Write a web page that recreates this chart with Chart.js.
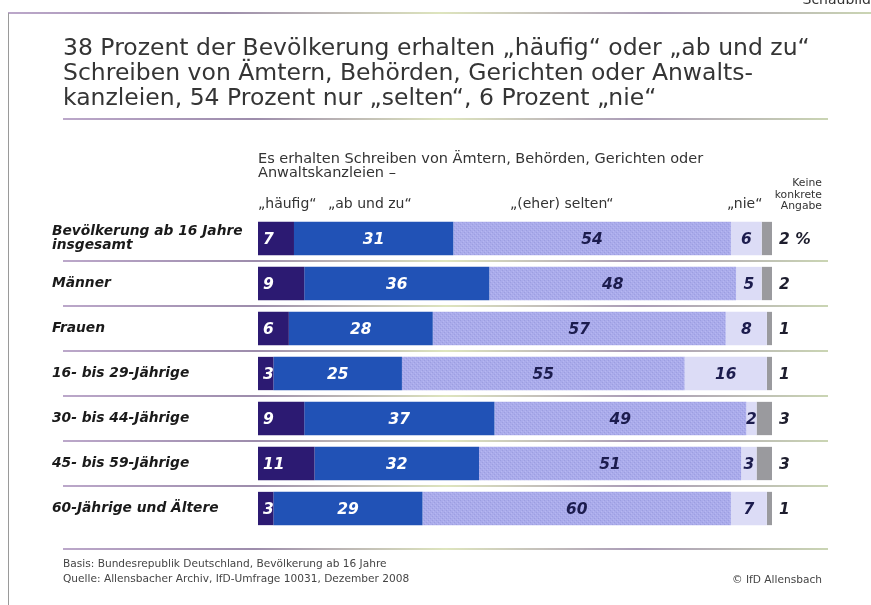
<!DOCTYPE html>
<html>
<head>
<meta charset="utf-8">
<script src="https://cdn.jsdelivr.net/npm/chart.js@4"></script>
<style>
body { margin: 0; background: #fff; }
#wrap { position: relative; width: 871px; height: 605px; overflow: hidden; font-family: "DejaVu Sans", sans-serif; color: #2e2e2e; }
canvas { position: absolute; left: 0; top: 0; }
.t { position: absolute; white-space: nowrap; }
#title { left: 63px; top: 35px; font-size: 23.5px; line-height: 25px; color: #353535; }
#sub { left: 258px; top: 151px; font-size: 14.5px; line-height: 14px; color: #333; }
.head { top: 195px; font-size: 14px; color: #333; }
#keine { right: 49px; top: 177px; font-size: 10.8px; line-height: 11.5px; text-align: right; color: #333; }
#foot { left: 63px; top: 556px; font-size: 10.6px; line-height: 15px; color: #444; }
#copy { right: 49px; top: 573px; font-size: 10.6px; color: #444; }
#schaubild { right: 0px; top: -9px; font-size: 14px; color: #333; }
</style>
</head>
<body>
<div id="wrap">
<canvas id="barChart" width="871" height="605"></canvas>
<div class="t" id="schaubild">Schaubild</div>
<div class="t" id="title">38 Prozent der Bevölkerung erhalten „häufig“ oder „ab und zu“<br>Schreiben von Ämtern, Behörden, Gerichten oder Anwalts-<br>kanzleien, 54 Prozent nur „selten“, 6 Prozent „nie“</div>
<div class="t" id="sub">Es erhalten Schreiben von Ämtern, Behörden, Gerichten oder<br>Anwaltskanzleien –</div>
<div class="t head" style="left:258px">„häufig“</div>
<div class="t head" style="left:328px">„ab und zu“</div>
<div class="t head" style="left:510px">„(eher) selten“</div>
<div class="t head" style="left:727px">„nie“</div>
<div class="t" id="keine">Keine<br>konkrete<br>Angabe</div>
<div class="t" id="foot">Basis: Bundesrepublik Deutschland, Bevölkerung ab 16 Jahre<br>Quelle: Allensbacher Archiv, IfD-Umfrage 10031, Dezember 2008</div>
<div class="t" id="copy">© IfD Allensbach</div>
</div>
<script>
const labels = [
    ['Bevölkerung ab 16 Jahre', 'insgesamt'],
    'Männer',
    'Frauen',
    '16- bis 29-Jährige',
    '30- bis 44-Jährige',
    '45- bis 59-Jährige',
    '60-Jährige und Ältere',
]
const haeufig = [7, 9, 6, 3, 9, 11, 3]
const abUndZu = [31, 36, 28, 25, 37, 32, 29]
const selten = [54, 48, 57, 55, 49, 51, 60]
const nie = [6, 5, 8, 16, 2, 3, 7]
const keineAngabe = [2, 2, 1, 1, 3, 3, 1]

// fine crosshatch for the "selten" segment
function hatch() {
    const c = document.createElement('canvas')
    c.width = 4
    c.height = 4
    const g = c.getContext('2d')
    g.fillStyle = '#aaabeb'
    g.fillRect(0, 0, 4, 4)
    g.fillStyle = '#9c9ee0'
    g.fillRect(0, 0, 1, 1)
    g.fillRect(2, 2, 1, 1)
    g.fillStyle = '#b6b7f0'
    g.fillRect(1, 3, 1, 1)
    g.fillRect(3, 1, 1, 1)
    return g.createPattern(c, 'repeat')
}

function fancyLine(ctx, x0, x1, y, w) {
    const gr = ctx.createLinearGradient(x0, 0, x1, 0)
    gr.addColorStop(0, '#a58ab8')
    gr.addColorStop(0.25, '#7c6690')
    gr.addColorStop(0.5, '#d3dca8')
    gr.addColorStop(0.75, '#8e7aa0')
    gr.addColorStop(1, '#b9c79a')
    ctx.strokeStyle = gr
    ctx.lineWidth = w
    ctx.beginPath()
    ctx.moveTo(x0, y)
    ctx.lineTo(x1, y)
    ctx.stroke()
}

const decor = {
    id: 'decor',
    beforeDraw(chart) {
        const ctx = chart.ctx
        const y = chart.scales.y
        ctx.save()
        // frame
        fancyLine(ctx, 8, 871, 13, 1.5)
        ctx.strokeStyle = '#9a9a9a'
        ctx.lineWidth = 1
        ctx.beginPath()
        ctx.moveTo(8.5, 13)
        ctx.lineTo(8.5, 605)
        ctx.stroke()
        fancyLine(ctx, 63, 828, 119, 1.5)
        fancyLine(ctx, 63, 828, 549, 1.5)
        for (let i = 0; i < labels.length - 1; i++) {
            const py = (y.getPixelForValue(i) + y.getPixelForValue(i + 1)) / 2
            fancyLine(ctx, 63, 828, py, 1.5)
        }
        ctx.restore()
    }
}

const values = {
    id: 'values',
    afterDatasetsDraw(chart) {
        const ctx = chart.ctx
        ctx.save()
        ctx.font = 'italic bold 15.5px "DejaVu Sans"'
        ctx.textBaseline = 'middle'
        chart.data.datasets.forEach((ds, d) => {
            chart.getDatasetMeta(d).data.forEach((bar, i) => {
                const v = ds.data[i]
                if (d === 0) {
                    ctx.fillStyle = '#ffffff'
                    ctx.textAlign = 'left'
                    ctx.fillText(v, bar.base + 5, bar.y + 1)
                } else if (d === 4) {
                    ctx.fillStyle = '#1e1e2e'
                    ctx.textAlign = 'left'
                    ctx.fillText(i === 0 ? v + ' %' : v, bar.x + 7, bar.y + 1)
                } else {
                    ctx.fillStyle = d === 1 ? '#ffffff' : '#1c1c4e'
                    ctx.textAlign = 'center'
                    ctx.fillText(v, (bar.x + bar.base) / 2, bar.y + 1)
                }
            })
        })
        ctx.restore()
    }
}

const bar = document.querySelector('#barChart')
new Chart(bar, {
    type: 'bar',
    data: {
        labels: labels,
        datasets: [
            { label: 'häufig', data: haeufig, backgroundColor: '#2c1a72' },
            { label: 'ab und zu', data: abUndZu, backgroundColor: '#2152b6' },
            { label: '(eher) selten', data: selten, backgroundColor: hatch() },
            { label: 'nie', data: nie, backgroundColor: '#dcdcf6' },
            { label: 'Keine konkrete Angabe', data: keineAngabe, backgroundColor: '#9a9a9e' },
        ]
    },
    options: {
        indexAxis: 'y',
        responsive: false,
        animation: false,
        layout: { padding: { left: 52, right: 99, top: 216, bottom: 74 } },
        plugins: { legend: { display: false }, tooltip: { enabled: false } },
        datasets: { bar: { categoryPercentage: 1, barPercentage: 0.74 } },
        scales: {
            x: { stacked: true, min: 0, max: 100, display: false },
            y: {
                stacked: true,
                grid: { display: false },
                border: { display: false },
                afterFit: s => { s.width = 206 },
                ticks: {
                    crossAlign: 'far',
                    color: '#1a1a1a',
                    font: { family: 'DejaVu Sans', size: 13.8, style: 'italic', weight: 'bold', lineHeight: 1.0 }
                }
            }
        }
    },
    plugins: [decor, values]
})
</script>
</body>
</html>
